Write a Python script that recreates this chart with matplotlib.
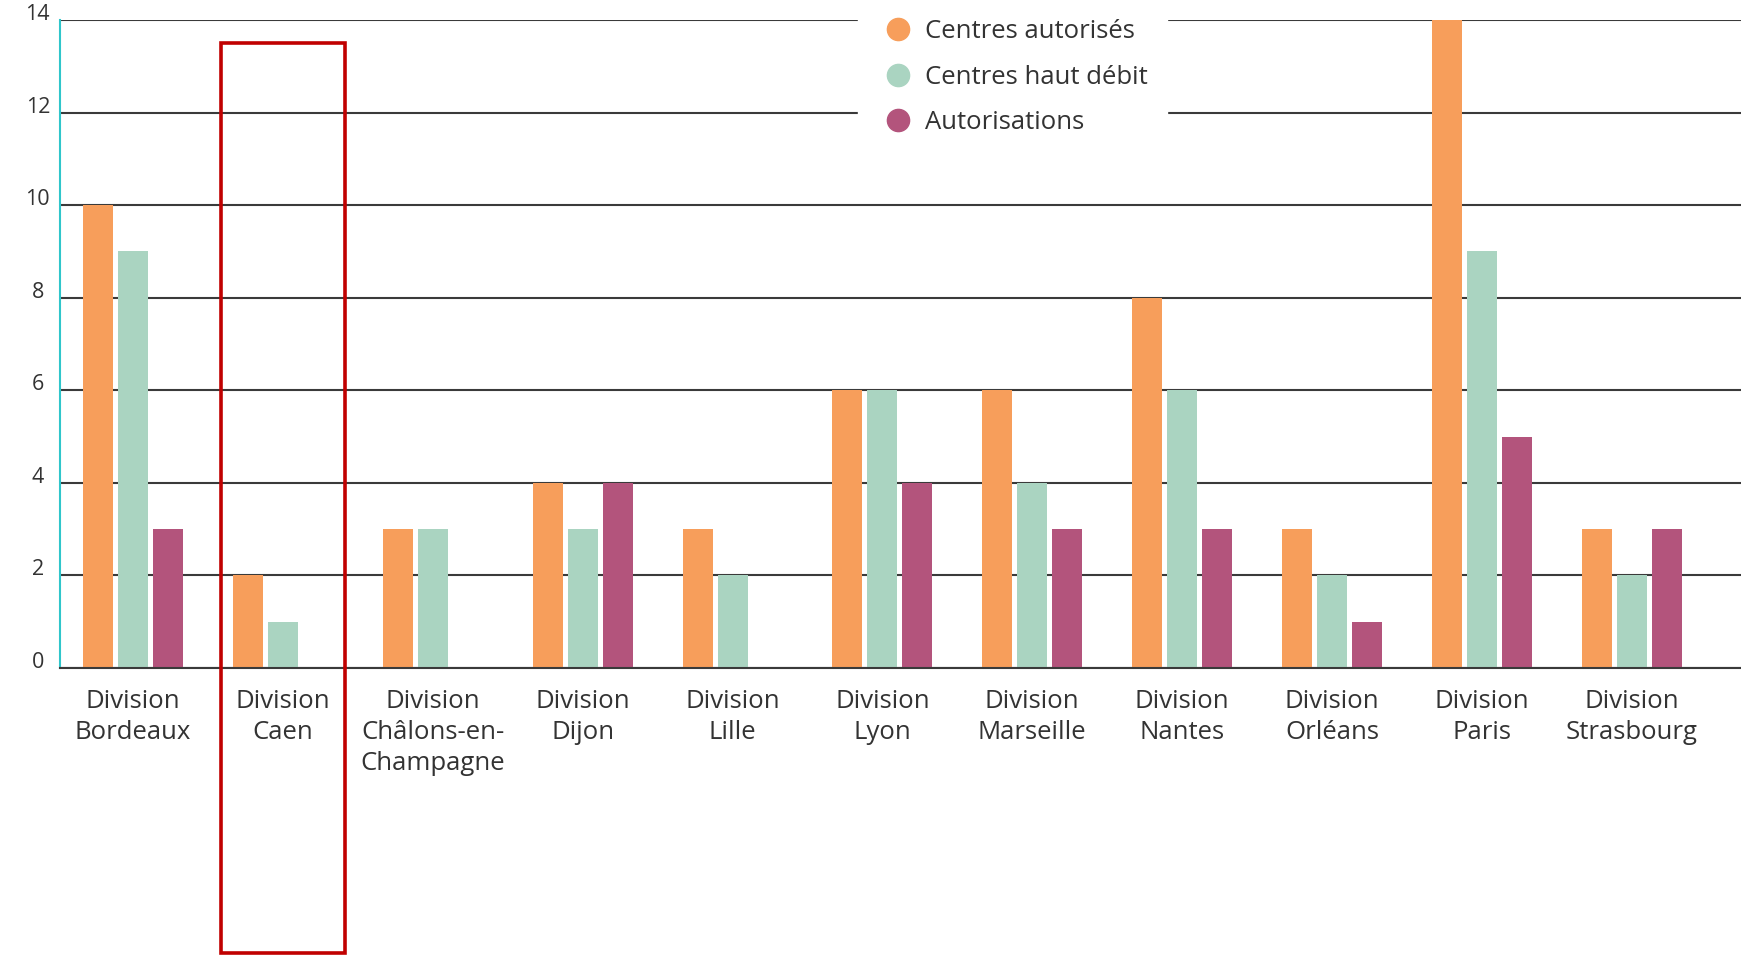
import numpy as np
import matplotlib.pyplot as plt
from matplotlib.patches import Rectangle
from matplotlib.lines import Line2D

plt.rcParams['font.family'] = ['Open Sans', 'DejaVu Sans']

# Data
divisions = ['Division\nBordeaux', 'Division\nCaen', 'Division\nChâlons-en-\nChampagne',
             'Division\nDijon', 'Division\nLille', 'Division\nLyon', 'Division\nMarseille',
             'Division\nNantes', 'Division\nOrléans', 'Division\nParis', 'Division\nStrasbourg']
centres_autorises = [10, 2, 3, 4, 3, 6, 6, 8, 3, 14, 3]
centres_haut_debit = [9, 1, 3, 3, 2, 6, 4, 6, 2, 9, 2]
autorisations = [3, 0, 0, 4, 0, 4, 3, 3, 1, 5, 3]
series_names = ['Centres autorisés', 'Centres haut débit', 'Autorisations']
yticks = [0, 2, 4, 6, 8, 10, 12, 14]
highlight = 1  # Caen

colors = ['#F79E5B', '#AAD4C1', '#B3547C']
text_color = '#333333'

fig = plt.figure(figsize=(17.41, 9.59), dpi=100)
ax = fig.add_axes([60 / 1741, 1 - 668 / 959, 1681 / 1741, 648 / 959])

x = np.arange(len(divisions))
w = 0.2
step = 0.233
for i, vals in enumerate([centres_autorises, centres_haut_debit, autorisations]):
    ax.bar(x + (i - 1) * step, vals, width=w, color=colors[i], zorder=3)

ax.set_xlim(-0.488, 10.73)
ax.set_ylim(0, 14)
ax.set_yticks(yticks)
ax.set_yticklabels([str(t) for t in yticks], fontsize=15.5, color=text_color)
ax.set_xticks(x)
ax.set_xticklabels(divisions, fontsize=18.5, color=text_color, linespacing=1.32)
ax.tick_params(axis='y', length=0, pad=16)
ax.tick_params(axis='x', length=0, pad=15)
for lab in ax.get_yticklabels():
    lab.set_verticalalignment('baseline')
    lab.set_horizontalalignment('center')

ax.grid(axis='y', color='#3a3a3a', linewidth=1.5, zorder=0)
for s in ['top', 'right']:
    ax.spines[s].set_visible(False)
ax.spines['bottom'].set_color('#3a3a3a')
ax.spines['bottom'].set_linewidth(1.5)
ax.spines['bottom'].set_zorder(4)
ax.spines['left'].set_color('#2FC6CB')
ax.spines['left'].set_linewidth(1.5)

# legend with white background interrupting the grid
handles = [Line2D([], [], marker='o', linestyle='none', markersize=16,
                  markerfacecolor=c, markeredgecolor=c) for c in colors]
leg = fig.legend(handles, series_names, loc='upper left',
                 bbox_to_anchor=(858 / 1741, 1.0), frameon=True, fontsize=18.5,
                 handletextpad=0.25, labelspacing=0.8, borderpad=0.75,
                 handlelength=1.6, borderaxespad=0)
leg.get_frame().set_facecolor('white')
leg.get_frame().set_edgecolor('white')
leg.get_frame().set_alpha(1)
for t in leg.get_texts():
    t.set_color(text_color)

# red highlight box around Caen
rect = Rectangle((highlight - 0.415, -6.15), 0.83, 19.65, transform=ax.transData,
                 fill=False, edgecolor='#C00000', linewidth=2.6, clip_on=False, zorder=5)
ax.add_patch(rect)

fig.savefig('out.png', dpi=100)
